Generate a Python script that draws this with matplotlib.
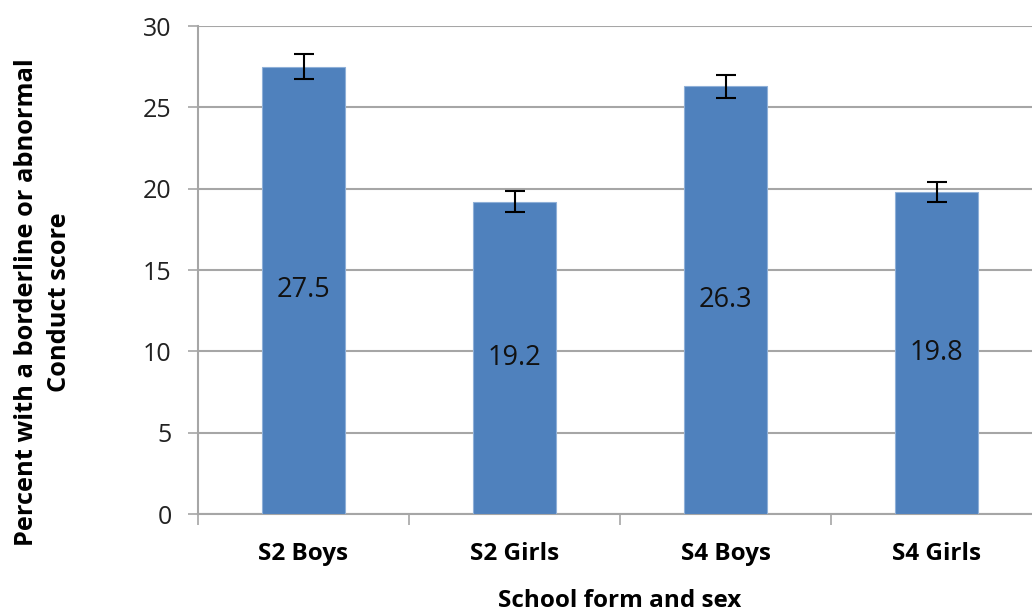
import matplotlib.pyplot as plt
import numpy as np

# Data
groups = ['S2 Boys', 'S2 Girls', 'S4 Boys', 'S4 Girls']
percent = [27.5, 19.2, 26.3, 19.8]
err = [0.75, 0.65, 0.7, 0.6]

plt.rcParams['font.family'] = ['Open Sans', 'DejaVu Sans']

fig = plt.figure(figsize=(10.32, 6.14), dpi=100)
# plot area runs past the right edge like the original crop
ax = fig.add_axes([198 / 1032, 1 - 514 / 614, 844 / 1032, 488 / 614])

x = np.arange(len(groups))
ax.bar(x, percent, width=0.39, color='#4F81BD', edgecolor='#8fb0d8', linewidth=0.8, zorder=3)
ax.errorbar(x, percent, yerr=err, fmt='none', ecolor='black', elinewidth=1.5,
            capsize=7, capthick=1.5, zorder=4)

for xi, v in zip(x, percent):
    ax.text(xi, v / 2, f'{v:.1f}', ha='center', va='center', fontsize=19.5, color='#111111', zorder=5)

ax.set_xlim(-0.5, len(groups) - 0.5)
ax.set_ylim(0, 30)
ax.set_yticks(range(0, 31, 5))
ax.yaxis.grid(True, color='#a6a6a6', linewidth=1.5, zorder=0)
ax.set_axisbelow(True)

ax.set_xticks(x)
ax.set_xticklabels(groups, fontsize=17.5, fontweight='bold')
ax.set_xticks(np.arange(-0.5, len(groups)), minor=True)
ax.tick_params(axis='x', which='major', length=0, pad=20)
ax.tick_params(axis='x', which='minor', length=8, width=1.2, color='#a6a6a6')
ax.tick_params(axis='y', length=7, width=1.2, color='#a6a6a6', labelsize=18, pad=12,
               labelcolor='#222222')

for s in ['top', 'right']:
    ax.spines[s].set_visible(False)
for s in ['left', 'bottom']:
    ax.spines[s].set_color('#a6a6a6')
    ax.spines[s].set_linewidth(1.5)

ax.set_xlabel('School form and sex', fontsize=17.5, fontweight='bold', labelpad=17)
ax.set_ylabel('Percent with a borderline or abnormal\nConduct score', fontsize=18.3,
              fontweight='bold', linespacing=1.4, va='center')
ax.yaxis.set_label_coords(-0.184, 0.434)

plt.savefig('out.png', dpi=100)
